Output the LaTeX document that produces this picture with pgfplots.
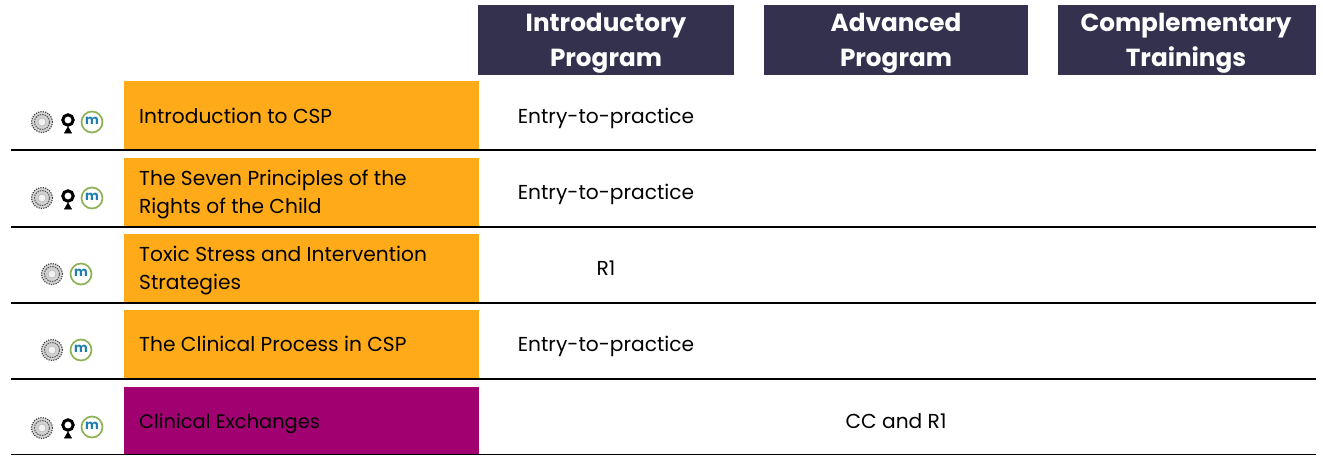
\documentclass[border=0pt]{standalone}
\usepackage{pgfplots}
\pgfplotsset{compat=1.18}
\usepackage{fontspec}
\setmainfont{Poppins}
\definecolor{hdr}{HTML}{33314E}
\definecolor{org}{HTML}{FFAB19}
\definecolor{pur}{HTML}{A00070}
\definecolor{grn}{HTML}{8DB255}
\definecolor{blu}{HTML}{1F7FB0}
\newcommand{\body}[4]{\node[anchor=#1,font=\fontsize{20.2}{24}\selectfont,inner sep=0pt,text=black] at (axis cs:#2,#3) {#4};}
\newcommand{\head}[3]{\node[anchor=base,font=\fontsize{24.7}{30}\selectfont\bfseries,inner sep=0pt,text=white] at (axis cs:#1,#2) {#3};}
\newcommand{\mlogo}[2]{\node[anchor=center,font=\fontsize{13}{13}\selectfont\bfseries,inner sep=0pt,text=blu] at (axis cs:#1,#2) {m};}
\begin{document}
\begin{tikzpicture}
\begin{axis}[
  scale only axis, width=1323pt, height=455pt,
  xmin=0, xmax=1323, ymin=0, ymax=455, y dir=reverse,
  axis line style={draw=none}, tick style={draw=none},
  xtick=\empty, ytick=\empty, clip=false,
]
% header boxes
\addplot[fill=hdr,draw=none] coordinates {(478,5)(734,5)(734,75)(478,75)};
\addplot[fill=hdr,draw=none] coordinates {(764,5)(1028,5)(1028,75)(764,75)};
\addplot[fill=hdr,draw=none] coordinates {(1058,5)(1316,5)(1316,75)(1058,75)};
% category boxes
\addplot[fill=org,draw=none] coordinates {(124,81)(479,81)(479,149)(124,149)};
\addplot[fill=org,draw=none] coordinates {(124,158)(479,158)(479,226)(124,226)};
\addplot[fill=org,draw=none] coordinates {(124,234)(479,234)(479,302)(124,302)};
\addplot[fill=org,draw=none] coordinates {(124,310)(479,310)(479,378)(124,378)};
\addplot[fill=pur,draw=none] coordinates {(124,387)(479,387)(479,454)(124,454)};
% rules
\addplot[black,line width=2pt] coordinates {(11,150)(1316,150)};
\addplot[black,line width=2pt] coordinates {(11,227)(1316,227)};
\addplot[black,line width=2pt] coordinates {(11,303)(1316,303)};
\addplot[black,line width=2pt] coordinates {(11,379)(1316,379)};
\addplot[black,line width=1.3pt] coordinates {(11,454.5)(1316,454.5)};
% seal icons
\addplot[only marks,mark=*,mark size=10.5pt,mark options={draw=black!75,fill=gray!35,line width=1.1pt,dash pattern=on 1.2pt off 1.2pt}] coordinates {(42,122)(42,198)(52,274)(52,350)(42,428)};
\addplot[only marks,mark=o,mark size=7.5pt,mark options={draw=black!65,line width=1pt,dash pattern=on 1.5pt off 1pt}] coordinates {(42,122)(42,198)(52,274)(52,350)(42,428)};
\addplot[only marks,mark=*,mark size=4pt,mark options={draw=gray!70,fill=gray!10,line width=0.4pt}] coordinates {(42,122)(42,198)(52,274)(52,350)(42,428)};
% rosette icons
\addplot[only marks,mark=o,mark size=5.2pt,mark options={draw=black,line width=3pt}] coordinates {(68,120)(68,196)(68,425)};
\addplot[only marks,mark=triangle*,mark size=4.2pt,mark options={draw=black,fill=black}] coordinates {(68,131)(68,207)(68,436)};
% m icons
\addplot[only marks,mark=o,mark size=10.5pt,mark options={draw=grn,line width=1.7pt}] coordinates {(92,122)(92,198)(81,274)(81,350)(92,427)};
\mlogo{92}{121}\mlogo{92}{197}\mlogo{81}{273}\mlogo{81}{349}\mlogo{92}{426}
% headers
\head{606}{31}{Introductory}\head{606}{66}{Program}
\head{896}{31}{Advanced}\head{896}{66}{Program}
\head{1186}{31}{Complementary}\head{1186}{66}{Trainings}
% row titles
\body{base west}{139}{123}{Introduction to CSP}
\body{base west}{139}{185}{The Seven Principles of the}
\body{base west}{139}{213}{Rights of the Child}
\body{base west}{139}{261}{Toxic Stress and Intervention}
\body{base west}{139}{289}{Strategies}
\body{base west}{139}{351}{The Clinical Process in CSP}
\body{base west}{139}{428}{\fontsize{19.4}{24}\selectfont Clinical Exchanges}
% cells
\body{base}{606}{123}{Entry-to-practice}
\body{base}{606}{199}{Entry-to-practice}
\body{base}{606}{275}{R1}
\body{base}{606}{351}{Entry-to-practice}
\body{base}{896}{428}{CC and R1}
\end{axis}
\end{tikzpicture}
\end{document}
